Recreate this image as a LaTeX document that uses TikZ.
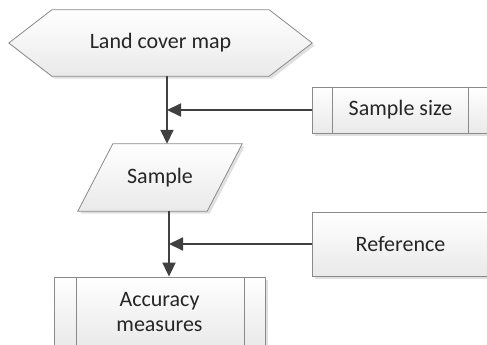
\documentclass[tikz,border=0pt]{standalone}
\usepackage{fontspec}
\setmainfont{Carlito}
\usetikzlibrary{arrows.meta,shadows,backgrounds,calc}
\definecolor{edge}{HTML}{8A8A8A}
\definecolor{arr}{HTML}{404040}
\definecolor{txt}{HTML}{262626}
\begin{document}
\begin{tikzpicture}[x=1pt,y=-1pt,
  shp/.style={draw=edge, line width=0.8pt, top color=white, bottom color=gray!17,
    drop shadow={shadow xshift=2.5pt, shadow yshift=-2.5pt, fill=black, opacity=0.12}},
  lbl/.style={inner sep=0pt, font=\fontsize{22}{25}\selectfont, align=center, text=txt},
  conn/.style={draw=arr, line width=1.8pt, -{Triangle[length=14pt,width=13pt]}},
  inner/.style={draw=edge, line width=0.8pt}
]
\useasboundingbox (0,0) rectangle (487,345);
\clip (0,0) rectangle (487,345);

% labels / anchor nodes
\node[lbl, minimum width=303pt, minimum height=66pt] (map) at (160.5,43) {Land cover map};
\node[lbl, minimum width=164pt, minimum height=67pt] (sample) at (160,177.5) {Sample};
\node[lbl, shp, minimum width=177pt, minimum height=46pt] (size) at (400.5,110) {Sample size};
\node[lbl, shp, minimum width=177pt, minimum height=64pt] (ref) at (400.5,244) {Reference};
\node[lbl, shp, minimum width=211pt, minimum height=70pt] (acc) at (159.5,312) {Accuracy\\measures};

% predefined-process inner lines
\draw[inner] ([xshift=21pt]size.north west) -- ([xshift=21pt]size.south west);
\draw[inner] ([xshift=-21pt]size.north east) -- ([xshift=-21pt]size.south east);
\draw[inner] ([xshift=23pt]acc.north west) -- ([xshift=23pt]acc.south west);
\draw[inner] ([xshift=-21pt]acc.north east) -- ([xshift=-21pt]acc.south east);

\begin{scope}[on background layer]
  \path[shp] (map.west) -- ([xshift=43pt]map.north west) -- ([xshift=-43pt]map.north east)
    -- (map.east) -- ([xshift=-43pt]map.south east) -- ([xshift=43pt]map.south west) -- cycle;
  \path[shp] ([xshift=35pt]sample.north west) -- (sample.north east)
    -- ([xshift=-35pt]sample.south east) -- (sample.south west) -- cycle;
\end{scope}

% connectors
\coordinate (j1) at (167,110);
\coordinate (j2) at (169,244);
\draw[conn] (map.south -| j1) -- (sample.north -| j1);
\draw[conn] (size.west) -- (j1);
\draw[conn] (sample.south -| j2) -- (acc.north -| j2);
\draw[conn] (ref.west) -- (j2);
\end{tikzpicture}
\end{document}
